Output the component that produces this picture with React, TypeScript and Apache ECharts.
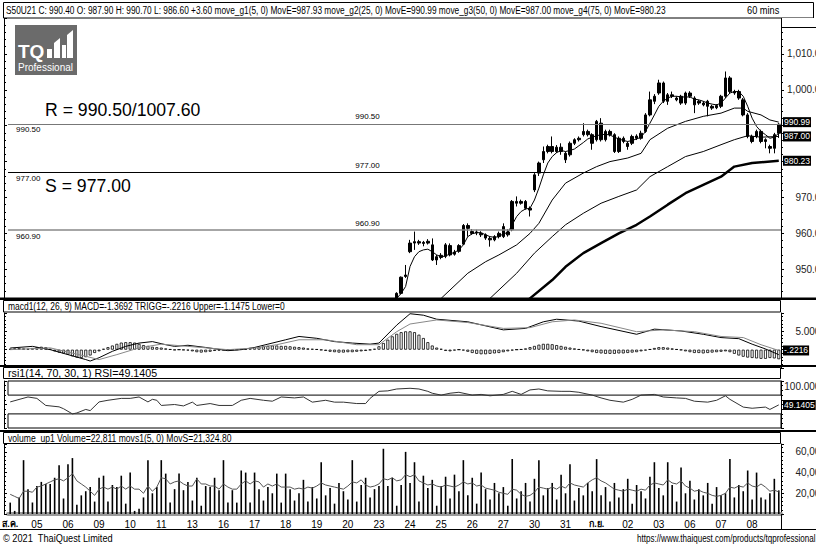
import React, { useEffect, useRef } from "react";
import * as echarts from "echarts";

const SANS = "'Liberation Sans', Arial, sans-serif";
const ARIAL = "'Liberation Sans', Arial, sans-serif";

// ---------- data ----------
const dayLabels = ["ส.ค.", "05", "06", "09", "10", "11", "13", "16", "17", "18", "19", "20", "23", "24", "25", "26", "27", "30", "31", "ก.ย.", "02", "03", "06", "07", "08"];
const monthLabels = ["ส.ค.", "ก.ย."];
const barsPerDay = [6, 7, 7, 7, 7, 7, 7, 7, 7, 7, 7, 7, 7, 7, 7, 7, 7, 7, 7, 7, 7, 7, 7, 7, 7];

// visible candles (open, high, low, close) starting at bar 87
const candleStart = 87;
const candleOHLC: number[][] = [
  [942.0, 943.6, 941.5, 943.3], [943.3, 948.0, 943.0, 947.8], [948.0, 951.2, 947.6, 948.4], [954.9, 958.2, 954.5, 957.3],
  [957.3, 960.5, 955.4, 957.7], [957.7, 958.2, 956.8, 957.3], [957.2, 957.9, 956.4, 957.5], [957.3, 958.4, 956.9, 957.8],
  [956.8, 958.6, 952.3, 952.6], [952.6, 954.0, 951.2, 953.5], [953.3, 954.5, 952.8, 953.9], [953.6, 957.3, 953.1, 956.8],
  [956.6, 957.2, 953.6, 954.0], [954.2, 955.4, 953.8, 954.8], [955.0, 957.0, 954.6, 956.6], [957.0, 962.6, 956.8, 962.2],
  [962.2, 962.8, 959.1, 961.4], [960.5, 961.2, 959.6, 960.0], [960.1, 961.0, 959.5, 960.4], [960.0, 960.6, 959.0, 959.6],
  [959.6, 960.0, 958.2, 958.7], [958.6, 959.1, 956.3, 958.2], [958.2, 959.5, 957.8, 959.1], [959.1, 960.5, 958.6, 960.0],
  [959.1, 962.8, 958.7, 961.9], [960.4, 961.2, 959.1, 959.6], [961.0, 969.3, 960.6, 968.9], [968.9, 970.3, 967.5, 968.4],
  [968.4, 969.4, 968.0, 968.9], [968.9, 969.3, 966.6, 967.0], [967.0, 967.5, 964.7, 966.5], [972.1, 976.8, 971.5, 976.3],
  [976.8, 980.0, 976.0, 979.6], [980.5, 984.2, 979.6, 982.8], [982.8, 984.7, 982.3, 984.2], [984.2, 987.0, 982.3, 982.8],
  [982.8, 984.6, 982.4, 984.0], [984.0, 985.1, 981.9, 982.8], [982.3, 982.8, 979.6, 980.5], [981.9, 985.6, 981.4, 985.1],
  [985.1, 986.5, 984.6, 986.1], [986.1, 987.0, 985.6, 986.5], [987.5, 990.7, 987.0, 988.4], [988.4, 988.9, 987.0, 987.5],
  [987.5, 987.9, 983.3, 985.1], [986.1, 991.6, 985.6, 991.2], [990.7, 992.1, 985.6, 986.1], [986.1, 988.9, 985.6, 988.4],
  [988.4, 988.9, 987.0, 987.5], [987.5, 987.9, 982.4, 982.8], [982.8, 987.0, 982.4, 986.5], [986.5, 987.0, 985.1, 985.6],
  [985.1, 985.6, 983.3, 984.2], [985.1, 987.5, 984.6, 987.0], [986.5, 987.6, 986.0, 987.1], [986.5, 988.6, 986.1, 987.9],
  [988.4, 993.5, 988.0, 993.0], [993.0, 999.5, 992.6, 997.2], [996.8, 998.8, 996.0, 998.2], [999.1, 1002.8, 998.6, 1001.9],
  [1001.9, 1002.3, 996.3, 996.8], [996.8, 999.1, 995.8, 998.6], [998.6, 999.5, 997.7, 998.2], [997.7, 998.2, 996.8, 997.2],
  [998.2, 998.6, 995.8, 996.3], [996.3, 999.5, 995.8, 999.1], [999.1, 999.6, 997.7, 998.2], [997.7, 998.2, 993.5, 995.8],
  [996.3, 997.2, 995.8, 996.8], [996.3, 996.8, 995.4, 995.8], [996.8, 997.2, 992.6, 995.4], [995.4, 995.8, 994.4, 994.9],
  [995.0, 996.0, 994.6, 995.6], [995.4, 998.6, 994.9, 998.2], [998.2, 1005.1, 997.7, 1003.3], [1003.3, 1003.8, 999.1, 999.5],
  [999.5, 1000.0, 998.6, 999.1], [999.5, 1000.0, 997.2, 997.7], [997.2, 997.7, 992.6, 993.0], [993.0, 993.5, 986.5, 987.0],
  [987.0, 987.5, 985.1, 985.6], [987.0, 988.9, 986.5, 988.4], [988.4, 988.9, 985.1, 985.6], [986.1, 986.5, 983.7, 985.6],
  [984.2, 984.7, 982.3, 983.7], [983.7, 988.0, 982.3, 987.5], [987.9, 990.7, 986.6, 990.4],
];

// moving averages, [bar, value]
const ma5Points = [
  [86, 940.5], [87, 941.9], [88, 943.3], [89, 945.2], [90, 950.8], [91, 953.5], [92, 954.9], [93, 955.4], [94, 955.6], [95, 954.9],
  [96, 954.0], [97, 953.5], [98, 953.7], [99, 954.3], [100, 954.7], [101, 955.4], [102, 956.8], [103, 959.1], [104, 959.9], [105, 960.2],
  [106, 960.2], [107, 959.6], [108, 959.1], [109, 958.9], [110, 959.1], [111, 959.9], [112, 960.2], [113, 962.4], [114, 964.7], [115, 966.1],
  [116, 966.8], [117, 967.0], [118, 969.3], [119, 972.6], [120, 976.3], [121, 979.6], [122, 981.4], [123, 982.5], [124, 983.1], [125, 982.8],
  [126, 983.1], [127, 983.5], [128, 984.4], [129, 985.3], [130, 986.3], [131, 986.8], [132, 987.2], [133, 987.5], [134, 987.6], [135, 987.4],
  [136, 986.8], [137, 986.3], [138, 985.9], [139, 985.6], [140, 985.9], [141, 986.3], [142, 986.8], [143, 988.4], [144, 990.7], [145, 993.0],
  [146, 995.4], [147, 996.8], [148, 997.7], [149, 998.2], [150, 998.2], [151, 998.0], [152, 998.0], [153, 998.0], [154, 997.4], [155, 997.2],
  [156, 996.8], [157, 996.3], [158, 996.0], [159, 995.8], [160, 996.3], [161, 997.7], [162, 999.1], [163, 999.5], [164, 999.5], [165, 998.2],
  [166, 995.4], [167, 992.1], [168, 989.8], [169, 988.4], [170, 987.5], [171, 986.5], [172, 986.8], [173, 987.93],
];
const ma25Points = [
  [96, 940.5], [97, 941.9], [103, 948.9], [107, 952.1], [110, 954.0], [114, 956.8], [117, 960.0], [119, 962.8], [122, 969.3], [125, 974.0],
  [129, 976.8], [132, 978.6], [135, 980.0], [139, 981.0], [142, 982.3], [144, 986.1], [148, 989.3], [152, 991.2], [156, 992.6], [160, 993.5],
  [163, 994.9], [165, 994.9], [166, 994.0], [169, 993.0], [171, 991.6], [173, 990.99],
];
const ma50Points = [
  [107, 940.5], [108, 941.9], [114, 948.9], [118, 954.5], [122, 959.1], [125, 962.4], [129, 965.6], [133, 968.4], [137, 970.3], [141, 972.1],
  [144, 975.8], [148, 978.6], [152, 981.4], [156, 982.8], [160, 984.7], [163, 986.1], [166, 987.2], [169, 986.8], [173, 987.0],
];
const ma75Points = [
  [116, 940.5], [117, 941.9], [122, 947.0], [125, 950.7], [129, 954.5], [133, 957.3], [137, 960.0], [141, 962.4], [144, 964.7], [148, 968.0],
  [152, 971.2], [156, 973.5], [160, 975.8], [163, 978.6], [167, 979.6], [173, 980.23],
];

const levelR = 990.5;
const levelR2 = 1007.6;
const levelS = 977.0;
const level3 = 960.9;

// MACD
const macdPoints = [
  [0, 0.45], [5, 0.9], [9, 0], [13, -1.35], [17, -2.7], [18, -3.1], [20, -2.2], [23, -0.45], [26, 0.9], [29, 1.8], [32, 2.2], [35, 1.35],
  [37, 0.9], [40, 1.2], [44, 0.6], [49, -0.27], [52, 0], [55, 0.6], [58, 1.5], [62, 2.7], [65, 3.6], [69, 3.1], [73, 2.2], [77, 1.8],
  [81, 1.5], [83, 1.8], [87, 6.7], [90, 9.8], [93, 9.4], [96, 8.3], [103, 7.6], [111, 5.4], [116, 5.8], [120, 7.6], [123, 8.3], [128, 7.8],
  [133, 6.3], [141, 4.2], [145, 5.6], [151, 5.1], [156, 4.2], [160, 3.3], [164, 3.0], [167, 1.5], [170, 0.2], [173, -1.3692],
];
const triggPoints = [
  [0, 0], [9, 0.5], [17, -1.8], [20, -2.7], [24, -1.35], [29, 0.5], [34, 1.5], [40, 0.9], [49, 0], [55, 0.45], [60, 1.35], [65, 2.7],
  [71, 2.7], [78, 1.35], [83, 1.35], [87, 4.9], [90, 7.0], [96, 8.1], [103, 7.4], [111, 5.8], [117, 6.0], [122, 7.6], [127, 8.1],
  [133, 7.2], [141, 4.9], [147, 5.4], [154, 4.9], [160, 3.6], [165, 3.3], [169, 1.35], [173, -0.2216],
];
const macdHist = [
  0.1, 0.15, 0.2, 0.15, 0.1, 0.2, 0.3, 0.35, 0.3, 0.1,
  -0.2, -0.35, -0.45, -0.6, -0.8, -0.95, -1.0, -0.9, -0.7, -0.4,
  -0.2, 0.1, 0.3, 0.5, 0.7, 0.85, 0.9, 0.9, 0.85, 0.7, 0.55, 0.45, 0.35,
  0.3, 0.25, 0.15, 0.05, -0.05, 0, -0.05, -0.1, -0.2,
  -0.3, -0.35, -0.3, -0.25, -0.15, -0.1, -0.05, 0, 0,
  0, 0.05, 0.1, 0.2, 0.3,
  0.35, 0.4, 0.45, 0.5, 0.5, 0.45, 0.45, 0.4, 0.35, 0.3, 0.25, 0.15,
  0.1, 0.05, -0.05, -0.15,
  -0.25, -0.3, -0.35, -0.35, -0.3, -0.3, -0.25, -0.2, -0.15, -0.05, 0.1,
  0.4, 0.8, 1.2, 1.6, 1.9, 2.1, 2.2, 2.2, 2.1, 1.8,
  1.4, 0.9, 0.5, 0.25, 0.1, -0.15, -0.2, -0.1, 0, -0.1, -0.25,
  -0.4, -0.5, -0.55, -0.55, -0.5, -0.45, -0.4, -0.3, -0.2, -0.1,
  0, 0.05, 0.15, 0.3, 0.45, 0.6, 0.7, 0.7, 0.65, 0.55, 0.45, 0.35, 0.25, 0.15,
  0.05, -0.05, -0.2, -0.3, -0.4, -0.45, -0.5, -0.5, -0.5, -0.45, -0.45, -0.4, -0.35, -0.3, -0.2,
  -0.1, 0.05, 0.2, 0.3, 0.3, 0.25, 0.15, 0.05, -0.05,
  -0.2, -0.3, -0.4, -0.4, -0.45, -0.4, -0.35, -0.3, -0.25, -0.2, -0.3,
  -0.5, -0.7, -0.85, -0.95, -1.0, -1.05, -1.1, -1.1, -1.0, -1.05, -1.1475,
];

// RSI
const rsiPoints = [
  [0, 55.5], [4, 66], [6, 63], [8, 48], [11, 45], [12, 41], [14, 30], [15, 32], [17, 39.5], [18, 37], [20, 55.5], [22, 59], [25, 63],
  [27, 63], [29, 66], [31, 55.5], [32, 61], [33, 59], [34, 48], [37, 50], [39, 47], [41, 55], [42, 48], [45, 52], [47, 48], [50, 48],
  [52, 59], [54, 63], [57, 59], [59, 57], [61, 66], [64, 64], [66, 66], [68, 55], [71, 59], [73, 55], [75, 55], [78, 52], [80, 52],
  [81, 63], [83, 78], [85, 79], [87, 83], [90, 84.5], [92, 83], [94, 78], [95, 74], [97, 70], [99, 74], [101, 76], [104, 70],
  [106, 71.5], [108, 68.5], [111, 71.5], [113, 78], [115, 71.5], [117, 81], [119, 83], [121, 79], [124, 78], [126, 78], [128, 76],
  [131, 70], [133, 64], [135, 59], [138, 55], [140, 61], [142, 70], [145, 71.5], [147, 66], [150, 64], [152, 63], [154, 57],
  [157, 55], [159, 59], [161, 68.5], [162, 61], [165, 44.5], [167, 42], [170, 44.5], [171, 39.5], [173, 49.1405],
];

// Volume
const volume = [
  11000, 3000, 16000, 52000, 24000, 11000, 27000, 31000, 29000, 29000,
  35000, 47000, 15000, 48000, 54000, 9000, 18000, 22000, 26000, 12000,
  35000, 37000, 12000, 28000, 26000, 37000, 10000, 40000, 3000, 5000,
  16000, 52000, 20000, 26000, 52000, 39000, 11000, 24000, 39000, 23000,
  31000, 13000, 35000, 8000, 27000, 26000, 35000, 23000, 52000, 11000,
  23000, 11000, 42000, 40000, 11000, 40000, 24000, 13000, 26000, 20000,
  39000, 11000, 39000, 24000, 13000,
  20000, 33000, 12000, 26000, 15000, 50000, 18000, 25000, 10000, 30000, 22000, 14000, 52000,
  12000, 28000, 35000, 16000, 24000, 27000, 63000, 27000, 35000, 8000, 28000, 60000, 30000, 50000,
  12000, 37000, 25000, 33000, 8000, 27000, 36000, 15000, 38000, 22000, 52000,
  18000, 35000, 10000, 40000, 24000, 14000, 30000, 20000, 26000, 8000, 53000,
  15000, 22000, 30000, 12000, 34000, 52000, 18000, 25000, 30000, 14000, 38000, 20000, 48000,
  13000, 25000, 18000, 30000, 22000, 53000,
  18000, 26000, 12000, 30000, 16000, 24000, 34000, 10000, 28000, 22000, 15000, 36000, 50000,
  25000, 18000, 50000, 28000, 12000, 45000,
  20000, 32000, 14000, 24000, 18000, 30000, 10000, 26000, 18000, 20000, 53000,
  16000, 28000, 22000, 42000, 14000, 40000, 16000, 14000, 20000, 34000, 22811,
];
const movS = [
  19000, 17000, 15000, 22000, 22000, 21000, 26000, 27000, 29000, 31000,
  33000, 34000, 32000, 35000, 39000, 32000, 29000, 26000, 22000, 18000,
  24000, 26000, 24000, 26000, 24000, 27000, 24000, 27000, 24000, 24000,
  20000, 27000, 22000, 26000, 35000, 34000, 29000, 31000, 32000, 29000,
  27000, 27000, 34000, 29000, 29000, 27000, 27000, 24000, 29000, 26000,
  24000, 24000, 29000, 32000, 29000, 32000, 31000, 26000, 29000, 27000,
  29000, 26000, 26000, 26000, 24000,
  25000, 24000, 26000, 25000, 27000, 30000, 28000, 27000, 26000, 25000,
  24000, 27000, 31000, 30000, 33000, 28000, 26000, 27000, 29000, 34000,
  33000, 35000, 32000, 33000, 38000, 36000, 38000, 32000, 30000, 28000,
  29000, 27000, 26000, 28000, 27000, 26000, 28000, 31000, 29000, 30000,
  27000, 28000, 25000, 24000, 23000, 21000, 20000, 19000, 24000, 23000,
  19000, 17000, 18000, 21000, 26000, 25000, 24000, 26000, 24000, 27000,
  25000, 30000, 28000, 27000, 26000, 30000, 33000, 35000, 32000, 30000,
  27000, 24000, 23000, 22000, 24000, 23000, 22000, 24000, 23000, 28000,
  30000, 29000, 28000, 33000, 30000, 29000, 32000, 27000, 25000, 22000,
  23000, 21000, 20000, 18000, 17000, 18000, 20000, 26000, 25000, 27000,
  26000, 30000, 27000, 26000, 29000, 26000, 22000, 23000, 21324.8,
];

const symbolName = "S50U21";
const lastMA = { g1: 987.93, g2: 990.99, g3: 987.0, g4: 980.23 };
const priceChange = 3.6;

// ---------- derived tables ----------
const categories: string[] = [];
const dayText: string[] = [];
dayLabels.forEach((d, k) => {
  for (let j = 0; j < barsPerDay[k]; j++) {
    categories.push(`${k}-${j}`);
    dayText.push(j === 0 ? d : "");
  }
});
const N = categories.length;

const candleData = categories.map((_, i) => {
  const c = candleOHLC[i - candleStart];
  return c ? [c[0], c[3], c[2], c[1]] : ["-", "-", "-", "-"];
});
const last = candleOHLC[candleOHLC.length - 1];

const fmt2 = (v: number) => v.toLocaleString("en-US", { minimumFractionDigits: 2, maximumFractionDigits: 2 });
const titleText =
  `${symbolName} C: ${fmt2(last[3])} O: ${fmt2(last[0])} H: ${fmt2(last[1])} L: ${fmt2(last[2])} +${priceChange.toFixed(2)} ` +
  `move_g1(5, 0) MovE=${fmt2(lastMA.g1)} move_g2(25, 0) MovE=${fmt2(lastMA.g2)} move_g3(50, 0) MovE=${fmt2(lastMA.g3)} move_g4(75, 0) MovE=${fmt2(lastMA.g4)}`;

const lastOf = (pts: number[][]) => pts[pts.length - 1][1];

const endLabel = (text: string) => ({
  symbol: "none",
  silent: true,
  animation: false,
  lineStyle: { color: "rgba(0,0,0,0)", width: 0 },
  label: {
    show: true,
    position: "end",
    align: "left",
    distance: 2,
    formatter: text,
    color: "#fff",
    backgroundColor: "#000",
    padding: [1, 1, 0, 1],
    fontSize: 8.5,
    fontFamily: SANS,
  },
});

const levelLabel = { fontSize: 8, fontFamily: SANS, color: "#000" };

function buildOption(): any {
  const gridBase = { left: 8, right: 35, containLabel: false, outerBoundsMode: "none" };
  const grids = [
    { ...gridBase, top: 18, height: 280 },
    { ...gridBase, top: 313, height: 55 },
    { ...gridBase, top: 381, height: 47 },
    { ...gridBase, top: 444, height: 70 },
  ];
  const xAxes = grids.map((_, g) => ({
    type: "category",
    gridIndex: g,
    data: categories,
    boundaryGap: true,
    show: g === 3,
    axisLine: { show: true, lineStyle: { color: "#999", width: 4 } },
    axisTick: { show: false },
    splitLine: { show: false },
    axisLabel: {
      interval: 0,
      margin: 5,
      formatter: (_v: string, idx: number) => (monthLabels.includes(dayText[idx]) ? `{b|${dayText[idx]}}` : dayText[idx]),
      fontSize: 10,
      fontFamily: SANS,
      color: "#000",
      rich: { b: { fontSize: 9, fontWeight: "bold", fontFamily: SANS, color: "#000" } },
    },
  }));
  const deco = (gridIndex: number, min: number, max: number, extra: any = {}) => ({
    type: "value",
    gridIndex,
    position: "left",
    offset: 4,
    min,
    max,
    ...extra,
    axisLine: { show: true, lineStyle: { color: "#000" } },
    axisTick: { show: true, inside: true, length: 3, lineStyle: { color: "#000" } },
    minorTick: { show: true, splitNumber: 5, length: 2, lineStyle: { color: "#000" } },
    axisLabel: { show: false },
    splitLine: { show: false },
  });
  const rightAxis = (gridIndex: number, min: number, max: number, extra: any, fmt: (v: number) => string, va: string = "middle") => ({
    type: "value",
    gridIndex,
    position: "right",
    min,
    max,
    ...extra,
    axisLine: { show: true, lineStyle: { color: "#000" } },
    axisTick: { show: true, length: 3, lineStyle: { color: "#000" } },
    minorTick: { show: true, splitNumber: 5, length: 2, lineStyle: { color: "#000" } },
    splitLine: { show: false },
    axisLabel: { margin: 45, align: "right", verticalAlign: va, fontSize: 10, fontFamily: SANS, color: "#222", formatter: fmt },
  });

  const yAxes = [
    rightAxis(0, 942, 1020, { splitNumber: 8, minInterval: 10, maxInterval: 10 }, (v) => (v % 10 === 0 && v <= 1010 && v !== 990 && v !== 980 ? fmt2(v) : "")),
    deco(0, 942, 1020, { splitNumber: 8, minInterval: 10, maxInterval: 10 }),
    rightAxis(1, -5, 10, { interval: 5 }, (v) => (v === 5 ? "5.0000" : "")),
    { type: "value", gridIndex: 1, min: -2.2, max: 4.4, show: false, splitLine: { show: false } },
    deco(1, -5, 10, { interval: 5 }),
    rightAxis(2, 0, 100, { interval: 50 }, (v) => (v === 100 ? "100.0000" : ""), "top"),
    deco(2, 0, 100, { interval: 50 }),
    rightAxis(3, 0, 67600, { interval: 20000 }, (v) => (v > 0 && v % 20000 === 0 ? v.toLocaleString("en-US") : "")),
    deco(3, 0, 67600, { interval: 20000 }),
  ];

  const hidden = { color: "rgba(0,0,0,0)", width: 0 };
  const series: any[] = [
    {
      type: "candlestick",
      name: "price",
      xAxisIndex: 0,
      yAxisIndex: 0,
      data: candleData,
      barWidth: 3,
      clip: true,
      itemStyle: { color: "#000", color0: "#000", borderColor: "#000", borderColor0: "#000", borderWidth: 1 },
      markLine: {
        symbol: "none",
        silent: true,
        animation: false,
        data: [
          { yAxis: levelR, lineStyle: { color: "#777", width: 1, type: "solid" }, label: { ...levelLabel, position: "insideStartBottom", formatter: "990.50", distance: 2, padding: [0, 0, 0, 6] } },
          { yAxis: levelS, lineStyle: { color: "#000", width: 1, type: "solid" }, label: { ...levelLabel, position: "insideStartBottom", formatter: "977.00", distance: 2, padding: [0, 0, 0, 6] } },
          { yAxis: level3, lineStyle: { color: "#888", width: 1.5, type: "solid" }, label: { ...levelLabel, position: "insideStartBottom", formatter: "960.90", distance: 2, padding: [0, 0, 0, 6] } },
          [{ coord: [77, levelR], lineStyle: hidden, label: { ...levelLabel, position: "insideStartTop", formatter: "990.50", distance: 3 } }, { coord: [N - 1, levelR] }],
          [{ coord: [77, levelS], lineStyle: hidden, label: { ...levelLabel, position: "insideStartTop", formatter: "977.00", distance: 3 } }, { coord: [N - 1, levelS] }],
          [{ coord: [77, level3], lineStyle: hidden, label: { ...levelLabel, position: "insideStartTop", formatter: "960.90", distance: 3 } }, { coord: [N - 1, level3] }],
        ],
      },
    },
    { type: "line", name: "ma5", xAxisIndex: 0, yAxisIndex: 0, data: ma5Points, showSymbol: false, lineStyle: { color: "#000", width: 1 }, clip: true },
    { type: "line", name: "ma25", xAxisIndex: 0, yAxisIndex: 0, data: ma25Points, showSymbol: false, lineStyle: { color: "#000", width: 1 }, clip: true, markLine: { ...endLabel(lastOf(ma25Points).toFixed(2)), data: [{ yAxis: lastOf(ma25Points) }] } },
    { type: "line", name: "ma50", xAxisIndex: 0, yAxisIndex: 0, data: ma50Points, showSymbol: false, lineStyle: { color: "#000", width: 1 }, clip: true, markLine: { ...endLabel(lastOf(ma50Points).toFixed(2)), data: [{ yAxis: lastOf(ma50Points) }] } },
    { type: "line", name: "ma75", xAxisIndex: 0, yAxisIndex: 0, data: ma75Points, showSymbol: false, lineStyle: { color: "#000", width: 2.5 }, clip: true, markLine: { ...endLabel(lastOf(ma75Points).toFixed(2)), data: [{ yAxis: lastOf(ma75Points) }] } },
    {
      type: "bar", name: "hist", xAxisIndex: 1, yAxisIndex: 3, data: macdHist, barWidth: 3,
      itemStyle: { color: "#fff", borderColor: "#000", borderWidth: 0.8 },
    },
    { type: "line", name: "macd", xAxisIndex: 1, yAxisIndex: 2, data: macdPoints, showSymbol: false, lineStyle: { color: "#000", width: 1 } },
    { type: "line", name: "trigg", xAxisIndex: 1, yAxisIndex: 2, data: triggPoints, showSymbol: false, lineStyle: { color: "#888", width: 1 }, markLine: { ...endLabel("-.2216"), data: [{ yAxis: lastOf(triggPoints) }] } },
    {
      type: "line", name: "rsi", xAxisIndex: 2, yAxisIndex: 5, data: rsiPoints, showSymbol: false, lineStyle: { color: "#333", width: 1 },
      markArea: {
        silent: true,
        itemStyle: { color: "rgba(0,0,0,0)", borderColor: "#000", borderWidth: 1 },
        data: [
          [{ yAxis: 70 }, { yAxis: 100 }],
          [{ yAxis: 0 }, { yAxis: 30 }],
        ],
      },
      markLine: { ...endLabel(lastOf(rsiPoints).toFixed(4)), data: [{ yAxis: lastOf(rsiPoints) }] },
    },
    { type: "bar", name: "volume", xAxisIndex: 3, yAxisIndex: 7, data: volume, barWidth: 1.6, itemStyle: { color: "#000" } },
    { type: "line", name: "movs", xAxisIndex: 3, yAxisIndex: 7, data: movS, showSymbol: false, lineStyle: { color: "#555", width: 1 } },
  ];

  const txt = (x: number, y: number, text: string, sx = 0.84, size = 11, fam = SANS) => ({
    type: "text", x, y, z: 110, scaleX: sx,
    style: { text, fontSize: size, fontFamily: fam, fill: "#000", verticalAlign: "middle" },
  });
  const box = (x: number, y: number, w: number, h: number, z = 100) => ({
    type: "rect", z, shape: { x, y, width: w, height: h }, style: { fill: "#fff", stroke: "#000", lineWidth: 1 },
  });
  const bar = (y: number, h: number) => ({ type: "rect", z: 105, shape: { x: 0, y, width: 816, height: h }, style: { fill: "#000" } });

  const graphic: any[] = [
    box(3.5, 2.5, 810, 15.5),
    txt(6, 10.5, titleText, 0.757),
    txt(747, 10.5, "60 mins", 0.84),
    { type: "rect", z: 100, shape: { x: 782, y: 18, width: 34, height: 9 }, style: { fill: "#fff" } },
    { type: "line", z: 101, shape: { x1: 781, y1: 27.5, x2: 816, y2: 27.5 }, style: { stroke: "#000", lineWidth: 1 } },
    bar(297.5, 2.5),
    box(3.5, 300.5, 777, 11.5),
    txt(8, 306.5, "macd1(12, 26, 9) MACD=-1.3692 TRIGG=-.2216 Upper=-1.1475 Lower=0", 0.77),
    bar(365, 2),
    box(3.5, 367.5, 777, 11),
    txt(8, 373, `rsi1(14, 70, 30, 1) RSI=${lastOf(rsiPoints).toFixed(4)}`, 0.97),
    bar(430, 2),
    box(3.5, 432.5, 777, 11),
    txt(8, 438, `volume_up1 Volume=${volume[N - 1].toLocaleString("en-US")} movs1(5, 0) MovS=${movS[N - 1].toLocaleString("en-US", { minimumFractionDigits: 2 })}`, 0.78),
    { type: "line", z: 101, shape: { x1: 0, y1: 529.5, x2: 816, y2: 529.5 }, style: { stroke: "#000", lineWidth: 1 } },
    { type: "line", z: 101, shape: { x1: 781.5, y1: 514, x2: 781.5, y2: 530 }, style: { stroke: "#000", lineWidth: 1 } },
    txt(3, 538.5, "© 2021  ThaiQuest Limited"),
    txt(637, 538.5, "https://www.thaiquest.com/products/tqprofessional", 0.73),
    // logo
    { type: "rect", z: 100, shape: { x: 15, y: 25, width: 62, height: 50 }, style: { fill: "#6b6b6b" } },
    { type: "text", z: 110, x: 18, y: 51, style: { text: "TQ", fontSize: 19, fontWeight: "bold", fontFamily: ARIAL, fill: "#fff", verticalAlign: "middle" } },
    { type: "rect", z: 110, shape: { x: 47, y: 49, width: 5, height: 9 }, style: { fill: "#fff" } },
    { type: "polygon", z: 110, shape: { points: [[54, 43], [60, 38], [60, 58], [54, 58]] }, style: { fill: "#fff" } },
    { type: "rect", z: 110, shape: { x: 62, y: 45, width: 4, height: 13 }, style: { fill: "#fff" } },
    { type: "polygon", z: 110, shape: { points: [[67, 35], [73, 30], [73, 58], [67, 58]] }, style: { fill: "#fff" } },
    { type: "text", z: 110, x: 18, y: 67.5, style: { text: "Professional", fontSize: 10, fontFamily: ARIAL, fill: "#fff", verticalAlign: "middle" } },
    // R / S notes
    txt(45, 109.5, `R = ${fmt2(levelR)}/${levelR2.toFixed(2)}`, 0.98, 18, ARIAL),
    txt(45, 185.5, `S = ${fmt2(levelS)}`, 0.98, 18, ARIAL),
  ];

  return {
    animation: false,
    backgroundColor: "#fff",
    grid: grids,
    xAxis: xAxes,
    yAxis: yAxes,
    series,
    graphic,
  };
}

export default function App() {
  const ref = useRef<HTMLDivElement>(null);
  useEffect(() => {
    const chart = echarts.init(ref.current!, null, { renderer: "svg" });
    chart.setOption(buildOption());
    return () => chart.dispose();
  }, []);
  return <div ref={ref} style={{ position: "fixed", left: 0, top: 0, width: 816, height: 547, background: "#fff" }} />;
}
